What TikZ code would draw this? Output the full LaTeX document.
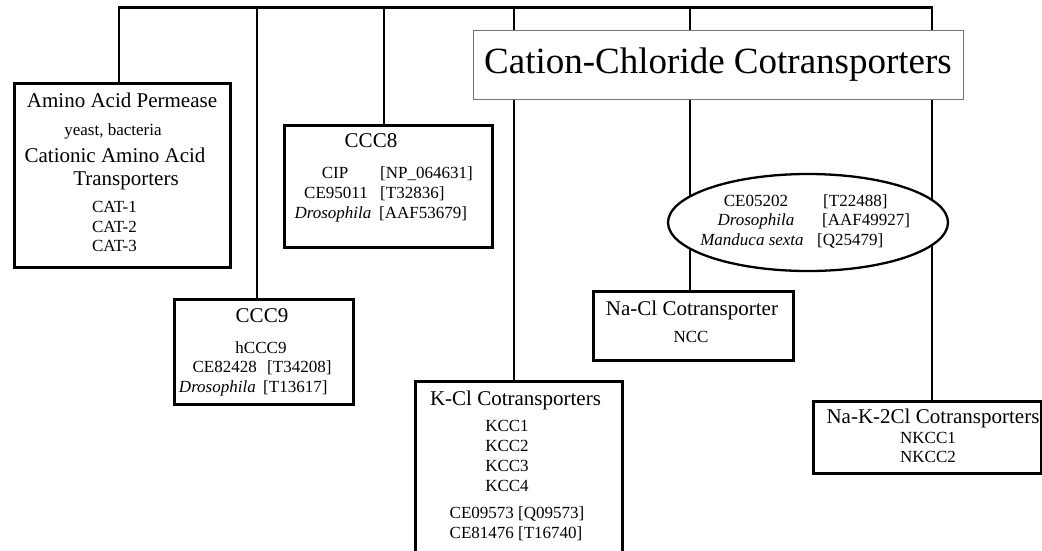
\documentclass[tikz,border=0pt]{standalone}
\usepackage{fontspec}
\setmainfont{Liberation Serif}
\usetikzlibrary{shapes.geometric,backgrounds}
\tikzset{
  conn/.style={line width=2.5pt},
  box/.style={draw, line width=2.6pt, fill=white, inner sep=0pt, anchor=north west},
  titlebox/.style={draw=black!55, line width=1pt, fill=white, inner sep=0pt,
    font=\fontsize{37}{40}\selectfont},
  ovalbox/.style={ellipse, draw, line width=2.3pt, fill=white, inner sep=0pt},
  hd/.style={font=\fontsize{21}{24}\selectfont, anchor=base, inner sep=0pt},
  sm/.style={font=\fontsize{17}{20}\selectfont, anchor=base, inner sep=0pt},
  smL/.style={sm, anchor=base west},
  smR/.style={sm, anchor=base east},
}
\begin{document}
\begin{tikzpicture}[x=1pt,y=-1pt]
\useasboundingbox (0,0) rectangle (1042,550);

% boxes
\node[titlebox, minimum width=490pt, minimum height=69pt] (title) at (718,64.5) {Cation-Chloride Cotransporters};
\node[box, minimum width=216pt, minimum height=184pt] (amino) at (13,82) {};
\node[box, minimum width=208pt, minimum height=122pt] (ccc8) at (283,124) {};
\node[box, minimum width=179pt, minimum height=105pt] (ccc9) at (173,298) {};
\node[box, minimum width=207pt, minimum height=190pt] (kcl) at (414,380) {};
\node[box, minimum width=200pt, minimum height=69pt] (nacl) at (592,290) {};
\node[box, minimum width=228pt, minimum height=72pt] (nkcc) at (812,400) {};
\node[ovalbox, minimum width=280pt, minimum height=97pt] (oval) at (808,222.5) {};

% bus coordinates
\coordinate (bA) at (119,7.5);
\coordinate (bC9) at (257,7.5);
\coordinate (bC8) at (384,7.5);
\coordinate (bK) at (514,7.5);
\coordinate (bN) at (690,7.5);
\coordinate (bNK) at (932,7.5);

\begin{scope}[on background layer]
  \fill[white] (0,0) rectangle (1042,550);
  \draw[conn] (bA |- amino.north) -- (bA) -- (bNK) -- (bNK |- nkcc.north);
  \draw[conn] (bC9) -- (bC9 |- ccc9.north);
  \draw[conn] (bC8) -- (bC8 |- ccc8.north);
  \draw[conn] (bK) -- (bK |- kcl.north);
  \draw[conn] (bN) -- (bN |- nacl.north);
\end{scope}

% Amino acid permease
\node[hd] (a1) at (122,107) {Amino Acid Permease};
\node[sm] (a2) at (113,135) {yeast, bacteria};
\node[hd] (a3) at (115,162) {Cationic Amino Acid};
\node[hd] (a4) at (126,185) {Transporters};
\node[sm] (a5) at (114.5,212) {CAT-1};
\node[sm] (a6) at (114.5,232) {CAT-2};
\node[sm] (a7) at (114.5,251) {CAT-3};

% CCC8
\node[hd] (c81) at (371,147) {CCC8};
\node[sm] (c82) at (335,178) {CIP};
\node[smL] (c83) at (380,178) {[NP\_064631]};
\node[sm] (c84) at (336,198) {CE95011};
\node[smL] (c85) at (380,198) {[T32836]};
\node[sm] (c86) at (333,218) {\itshape Drosophila};
\node[smL] (c87) at (379,218) {[AAF53679]};

% CCC9
\node[hd] (c91) at (262,322) {CCC9};
\node[sm] (c92) at (261,353) {hCCC9};
\node[smR] (c93) at (257,372) {CE82428};
\node[smL] (c94) at (267,372) {[T34208]};
\node[smR] (c95) at (256,392) {\itshape Drosophila};
\node[smL] (c96) at (263,392) {[T13617]};

% oval
\node[sm] (o1) at (756,206) {CE05202};
\node[smL] (o2) at (823,206) {[T22488]};
\node[sm] (o3) at (756,225) {\itshape Drosophila};
\node[smL] (o4) at (822,225) {[AAF49927]};
\node[sm] (o5) at (752,245) {\itshape Manduca sexta};
\node[smL] (o6) at (817,245) {[Q25479]};

% Na-Cl
\node[hd] (n1) at (692,315) {Na-Cl Cotransporter};
\node[sm] (n2) at (691,342) {NCC};

% K-Cl
\node[hd] (k1) at (515.5,405) {K-Cl Cotransporters};
\node[sm] (k2) at (507,431) {KCC1};
\node[sm] (k3) at (507,451) {KCC2};
\node[sm] (k4) at (507,471) {KCC3};
\node[sm] (k5) at (507,491) {KCC4};
\node[sm] (k6) at (517,518) {CE09573 [Q09573]};
\node[sm] (k7) at (516,538) {CE81476 [T16740]};

% Na-K-2Cl
\node[hd] (nk1) at (933,423) {Na-K-2Cl Cotransporters};
\node[sm] (nk2) at (928,443) {NKCC1};
\node[sm] (nk3) at (928,462) {NKCC2};
\end{tikzpicture}
\end{document}
